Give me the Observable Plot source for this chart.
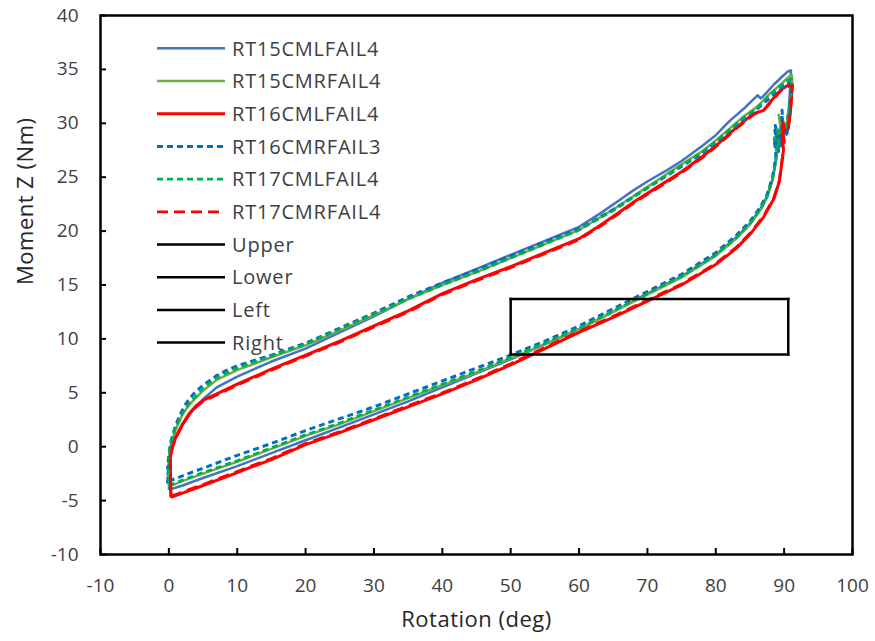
<!DOCTYPE html>
<html>
<head>
<meta charset="utf-8">
<script src="https://cdn.jsdelivr.net/npm/d3@7"></script>
<script src="https://cdn.jsdelivr.net/npm/@observablehq/plot@0.6"></script>
<style>
  body { margin: 0; background: #fff; }
  #chart { position: relative; width: 875px; height: 641px; }
  #chart svg { position: absolute; left: 0; top: 0; }
</style>
</head>
<body>
<div id="chart"></div>
<script>
// Moment Z vs rotation hysteresis loops, one closed path per specimen:
// loading branch out to ~90 deg, the peak, then the unloading branch back to 0.

const xTicks = [-10, 0, 10, 20, 30, 40, 50, 60, 70, 80, 90, 100];
const yTicks = [-10, -5, 0, 5, 10, 15, 20, 25, 30, 35, 40];

const rt15cml = [
  [0,-4.0],[2,-3.6],[5,-2.9],[10,-1.8],[15,-0.6],[20,0.6],[25,1.8],[30,3.0],[35,4.2],[40,5.5],
  [45,6.8],[50,8.1],[55,9.5],[60,10.9],[65,12.5],[70,14.2],[75,15.8],[80,17.8],[83,19.4],[85,20.7],
  [86.5,22.0],[87.5,23.2],[88.3,24.8],[88.7,26.3],[88.9,27.3],
  [88.6,28.6],[89.2,27.6],[88.7,29.4],[89.4,28.2],[89.5,30.5],[89.8,29.0],[90.4,29.8],[90.7,31.5],
  [90.9,33.5],[91.0,34.9],
  [90.5,34.8],[89.5,34.2],[88.5,33.6],[87.5,32.9],[86.6,32.3],[86.1,32.6],[84,31.3],[82,30.2],
  [80,28.9],[78,27.9],[75,26.5],[73,25.7],[70,24.6],[68,23.8],[66,22.9],[63,21.6],[60,20.4],
  [55,19.1],[50,17.8],[45,16.5],[40,15.2],[35,13.7],[30,12.1],[25,10.6],[20,9.1],[15,7.9],
  [10,6.5],[7,5.5],[5,4.4],[3,3.0],[2,2.0],[1,0.8],[0.5,-0.2],[0.1,-1.3],[-0.2,-2.5],[0.1,-3.2],[0,-4.0]
];

const rt15cmr = [
  [0,-3.7],[2,-3.2],[5,-2.5],[10,-1.4],[15,-0.2],[20,1.0],[25,2.1],[30,3.3],[35,4.5],[40,5.7],
  [45,6.9],[50,8.2],[55,9.5],[60,10.9],[65,12.5],[70,14.1],[75,15.7],[80,17.7],[83,19.3],[85,20.6],
  [86.5,21.9],[87.5,23.1],[88.3,24.7],[88.8,26.5],[89.0,27.5],
  [88.7,28.5],[89.3,27.9],[88.8,29.6],[89.6,29.0],[89.2,30.8],[90.2,29.5],[90.7,31.0],[91.0,32.5],
  [91.2,34.0],[91.1,34.5],
  [90.5,34.2],[89.5,33.6],[88,32.8],[86,31.5],[84,30.6],[80,28.4],[78,27.4],[75,26.2],[70,24.1],
  [65,22.0],[60,20.1],[55,18.8],[50,17.5],[45,16.2],[40,15.0],[35,13.7],[30,12.2],[25,10.8],
  [20,9.4],[15,8.3],[10,7.1],[7,6.2],[5,5.2],[3,3.9],[2,3.0],[1,1.6],[0.3,0.2],[0,-0.9],[0,-3.7]
];

const rt16cml = [
  [0.3,-4.7],[5,-3.6],[10,-2.4],[12,-1.9],[15,-1.2],[20,0.2],[25,1.3],[30,2.5],[35,3.7],[40,4.9],
  [45,6.2],[50,7.6],[55,9.1],[60,10.6],[65,12.0],[70,13.5],[75,15.0],[80,16.9],[83,18.4],[85,19.7],
  [87,21.3],[88.5,23.0],[89.3,24.6],[89.7,26.5],[89.9,27.5],
  [89.6,29.0],[90.0,28.2],[89.7,30.5],[90.1,29.2],[90.6,29.5],[90.9,31.0],[91.1,32.5],[91.2,33.6],
  [90.5,33.5],[89.5,33.1],[88,32.0],[87,31.2],[85.5,30.9],[83,29.6],[80,27.9],[78,26.9],[75,25.5],
  [70,23.5],[68,22.7],[66,21.8],[63,20.5],[60,19.3],[55,18.0],[50,16.7],[45,15.5],[40,14.2],
  [35,12.6],[30,11.2],[25,9.8],[20,8.5],[15,7.2],[10,5.8],[7,4.9],[5,4.3],[4,3.8],[3,3.1],
  [2,2.1],[1,0.9],[0.5,0.0],[0.2,-1.0],[0.3,-4.7]
];

const rt16cmr = [
  [0,-3.2],[2,-2.7],[5,-2.0],[10,-0.8],[15,0.3],[20,1.5],[25,2.6],[30,3.7],[35,4.9],[40,6.1],
  [45,7.3],[50,8.5],[55,9.8],[60,11.2],[65,12.8],[70,14.4],[75,16.0],[80,18.0],[83,19.6],[85,20.9],
  [86.5,22.2],[87.5,23.4],[88.3,25.0],[88.7,26.5],[88.8,27.3],
  [88.5,28.6],[89.2,27.4],[88.6,29.5],[89.4,28.0],[88.7,29.8],[89.5,27.6],[88.9,29.2],[89.6,28.6],
  [89.7,31.2],[89.9,28.8],[90.4,29.0],[90.8,30.5],[91.0,32.5],[91.0,33.6],
  [90.5,33.8],[89.5,33.2],[88,32.4],[86,31.3],[84,30.3],[80,28.2],[78,27.2],[75,26.0],[70,24.0],
  [65,22.0],[60,20.2],[55,19.0],[50,17.7],[45,16.4],[40,15.2],[35,13.9],[30,12.4],[25,11.0],
  [20,9.6],[15,8.5],[10,7.5],[8.5,7.1],[7,6.6],[5,5.7],[3.6,4.9],[2.5,4.0],[1.7,3.05],[1,2.0],
  [0.3,0.5],[0,-0.7],[-0.2,-2.0],[0.1,-1.6],[-0.2,-3.3],[0,-3.2]
];

const rt17cml = [
  [0,-3.6],[2,-3.1],[5,-2.4],[10,-1.3],[15,-0.1],[20,1.1],[25,2.2],[30,3.4],[35,4.6],[40,5.8],
  [45,7.0],[50,8.3],[55,9.6],[60,11.0],[65,12.6],[70,14.2],[75,15.8],[80,17.8],[83,19.4],[85,20.7],
  [86.5,22.0],[87.5,23.2],[88.3,24.8],[88.8,26.6],[89.0,27.6],
  [88.6,28.7],[89.2,28.1],[89.0,29.6],[89.6,29.1],[90.2,29.6],[90.7,31.2],[91.0,32.7],[91.1,34.1],
  [90.5,34.0],[89.5,33.5],[88,32.7],[86,31.4],[84,30.5],[80,28.3],[78,27.3],[75,26.1],[70,24.0],
  [65,21.9],[60,20.1],[55,18.8],[50,17.5],[45,16.2],[40,15.0],[35,13.7],[30,12.3],[25,10.9],
  [20,9.5],[15,8.4],[10,7.3],[7,6.4],[5,5.4],[3,4.1],[2,3.1],[1,1.8],[0.3,0.4],[0,-0.8],[0,-3.6]
];

const rt17cmr = [
  [0.3,-4.6],[5,-3.5],[10,-2.3],[12,-1.8],[15,-1.1],[20,0.3],[25,1.4],[30,2.6],[35,3.8],[40,5.0],
  [45,6.3],[50,7.7],[55,9.2],[60,10.7],[65,12.1],[70,13.6],[75,15.1],[80,17.0],[83,18.5],[85,19.8],
  [87,21.4],[88.5,23.1],[89.3,24.7],[89.7,26.6],[89.9,27.6],
  [89.6,29.1],[90.0,28.3],[89.7,30.4],[90.1,29.3],[90.6,29.6],[90.9,31.1],[91.1,32.6],[91.2,33.5],
  [90.5,33.4],[89.5,33.0],[88,31.9],[87,31.2],[85.5,30.8],[83,29.5],[80,27.8],[78,26.8],[75,25.4],
  [70,23.4],[68,22.6],[66,21.7],[63,20.4],[60,19.2],[55,17.9],[50,16.6],[45,15.4],[40,14.1],
  [35,12.5],[30,11.1],[25,9.7],[20,8.4],[15,7.1],[10,5.7],[7,4.8],[5,4.2],[4,3.7],[3,3.0],
  [2,2.0],[1,0.8],[0.5,-0.1],[0.2,-1.1],[0.3,-4.6]
];

// Reference box drawn as four black series
const boxLeft = 50;
const boxRight = 90.6;
const boxLower = 8.55;
const boxUpper = 13.7;
const upper = [[boxLeft, boxUpper], [boxRight, boxUpper]];
const lower = [[boxLeft, boxLower], [boxRight, boxLower]];
const left = [[boxLeft, boxLower], [boxLeft, boxUpper]];
const right = [[boxRight, boxLower], [boxRight, boxUpper]];

const series = [
  {name: "RT15CMLFAIL4", data: rt15cml, stroke: "#4472C4", width: 2.5, dash: null},
  {name: "RT15CMRFAIL4", data: rt15cmr, stroke: "#70AD47", width: 2.5, dash: null},
  {name: "RT16CMLFAIL4", data: rt16cml, stroke: "#FF0000", width: 3, dash: null},
  {name: "RT16CMRFAIL3", data: rt16cmr, stroke: "#0070C0", width: 3, dash: "6,4"},
  {name: "RT17CMLFAIL4", data: rt17cml, stroke: "#00B050", width: 2.75, dash: "6,4"},
  {name: "RT17CMRFAIL4", data: rt17cmr, stroke: "#FF0000", width: 2.75, dash: "11,6"},
  {name: "Upper", data: upper, stroke: "#000", width: 2.5, dash: null},
  {name: "Lower", data: lower, stroke: "#000", width: 2.5, dash: null},
  {name: "Left", data: left, stroke: "#000", width: 2.5, dash: null},
  {name: "Right", data: right, stroke: "#000", width: 2.5, dash: null}
];

const W = 875, H = 641;
const margin = {top: 15, right: 23, bottom: 87, left: 100};
const font = "'Open Sans', Lato, sans-serif";
const textColor = "#404040";

const lineMarks = series.map(s => Plot.line(s.data, {
  x: d => d[0],
  y: d => d[1],
  stroke: s.stroke,
  strokeWidth: s.width,
  strokeDasharray: s.dash,
  strokeLinejoin: "round",
  strokeLinecap: s.stroke === "#000" ? "square" : "butt"
}));

const chart = Plot.plot({
  width: W,
  height: H,
  marginTop: margin.top,
  marginRight: margin.right,
  marginBottom: margin.bottom,
  marginLeft: margin.left,
  style: {fontFamily: font, fontSize: "19px", color: textColor, background: "#fff", overflow: "visible"},
  x: {domain: [-10, 100]},
  y: {domain: [-10, 40]},
  marks: [
    ...lineMarks,
    Plot.frame({stroke: "#000", strokeWidth: 2.5}),
    Plot.axisX(xTicks, {tickSize: -6, tickPadding: 30, stroke: "#000", strokeWidth: 2,
      fill: textColor, fontSize: 19, tickFormat: d => String(d), label: null}),
    Plot.axisY(yTicks, {tickSize: -6, tickPadding: 28, stroke: "#000", strokeWidth: 2,
      fill: textColor, fontSize: 19, tickFormat: d => String(d), label: null}),
    Plot.text(["Rotation (deg)"], {frameAnchor: "bottom", dy: 72, fontSize: 22, fill: "#262626",
      style: {letterSpacing: "0.5px"}}),
    Plot.text(["Moment Z (Nm)"], {frameAnchor: "left", dx: -75, rotate: -90, fontSize: 22, fill: "#262626"})
  ]
});

const root = document.getElementById("chart");
root.appendChild(chart);
d3.select(chart).selectAll("text").filter(function() { return this.textContent === "Rotation (deg)" || this.textContent === "Moment Z (Nm)"; })
  .style("letter-spacing", "0.5px");

// Legend inside the plotting area, upper left
const legend = d3.select(root).append("svg")
  .attr("width", W).attr("height", H)
  .style("pointer-events", "none")
  .style("font-family", font);

const legendX = 157, legendLen = 68, legendY = 48.3, legendStep = 32.7;
const row = legend.selectAll("g").data(series).join("g")
  .attr("transform", (d, i) => `translate(${legendX},${legendY + i * legendStep})`);
row.append("line")
  .attr("x1", 0).attr("x2", legendLen).attr("y1", 0).attr("y2", 0)
  .attr("stroke", d => d.stroke)
  .attr("stroke-width", d => d.width)
  .attr("stroke-dasharray", d => d.dash);
row.append("text")
  .attr("x", 75).attr("y", 0).attr("dy", "0.36em")
  .attr("fill", textColor)
  .attr("font-size", 20)
  .style("letter-spacing", "0.8px")
  .text(d => d.name);
</script>
</body>
</html>
